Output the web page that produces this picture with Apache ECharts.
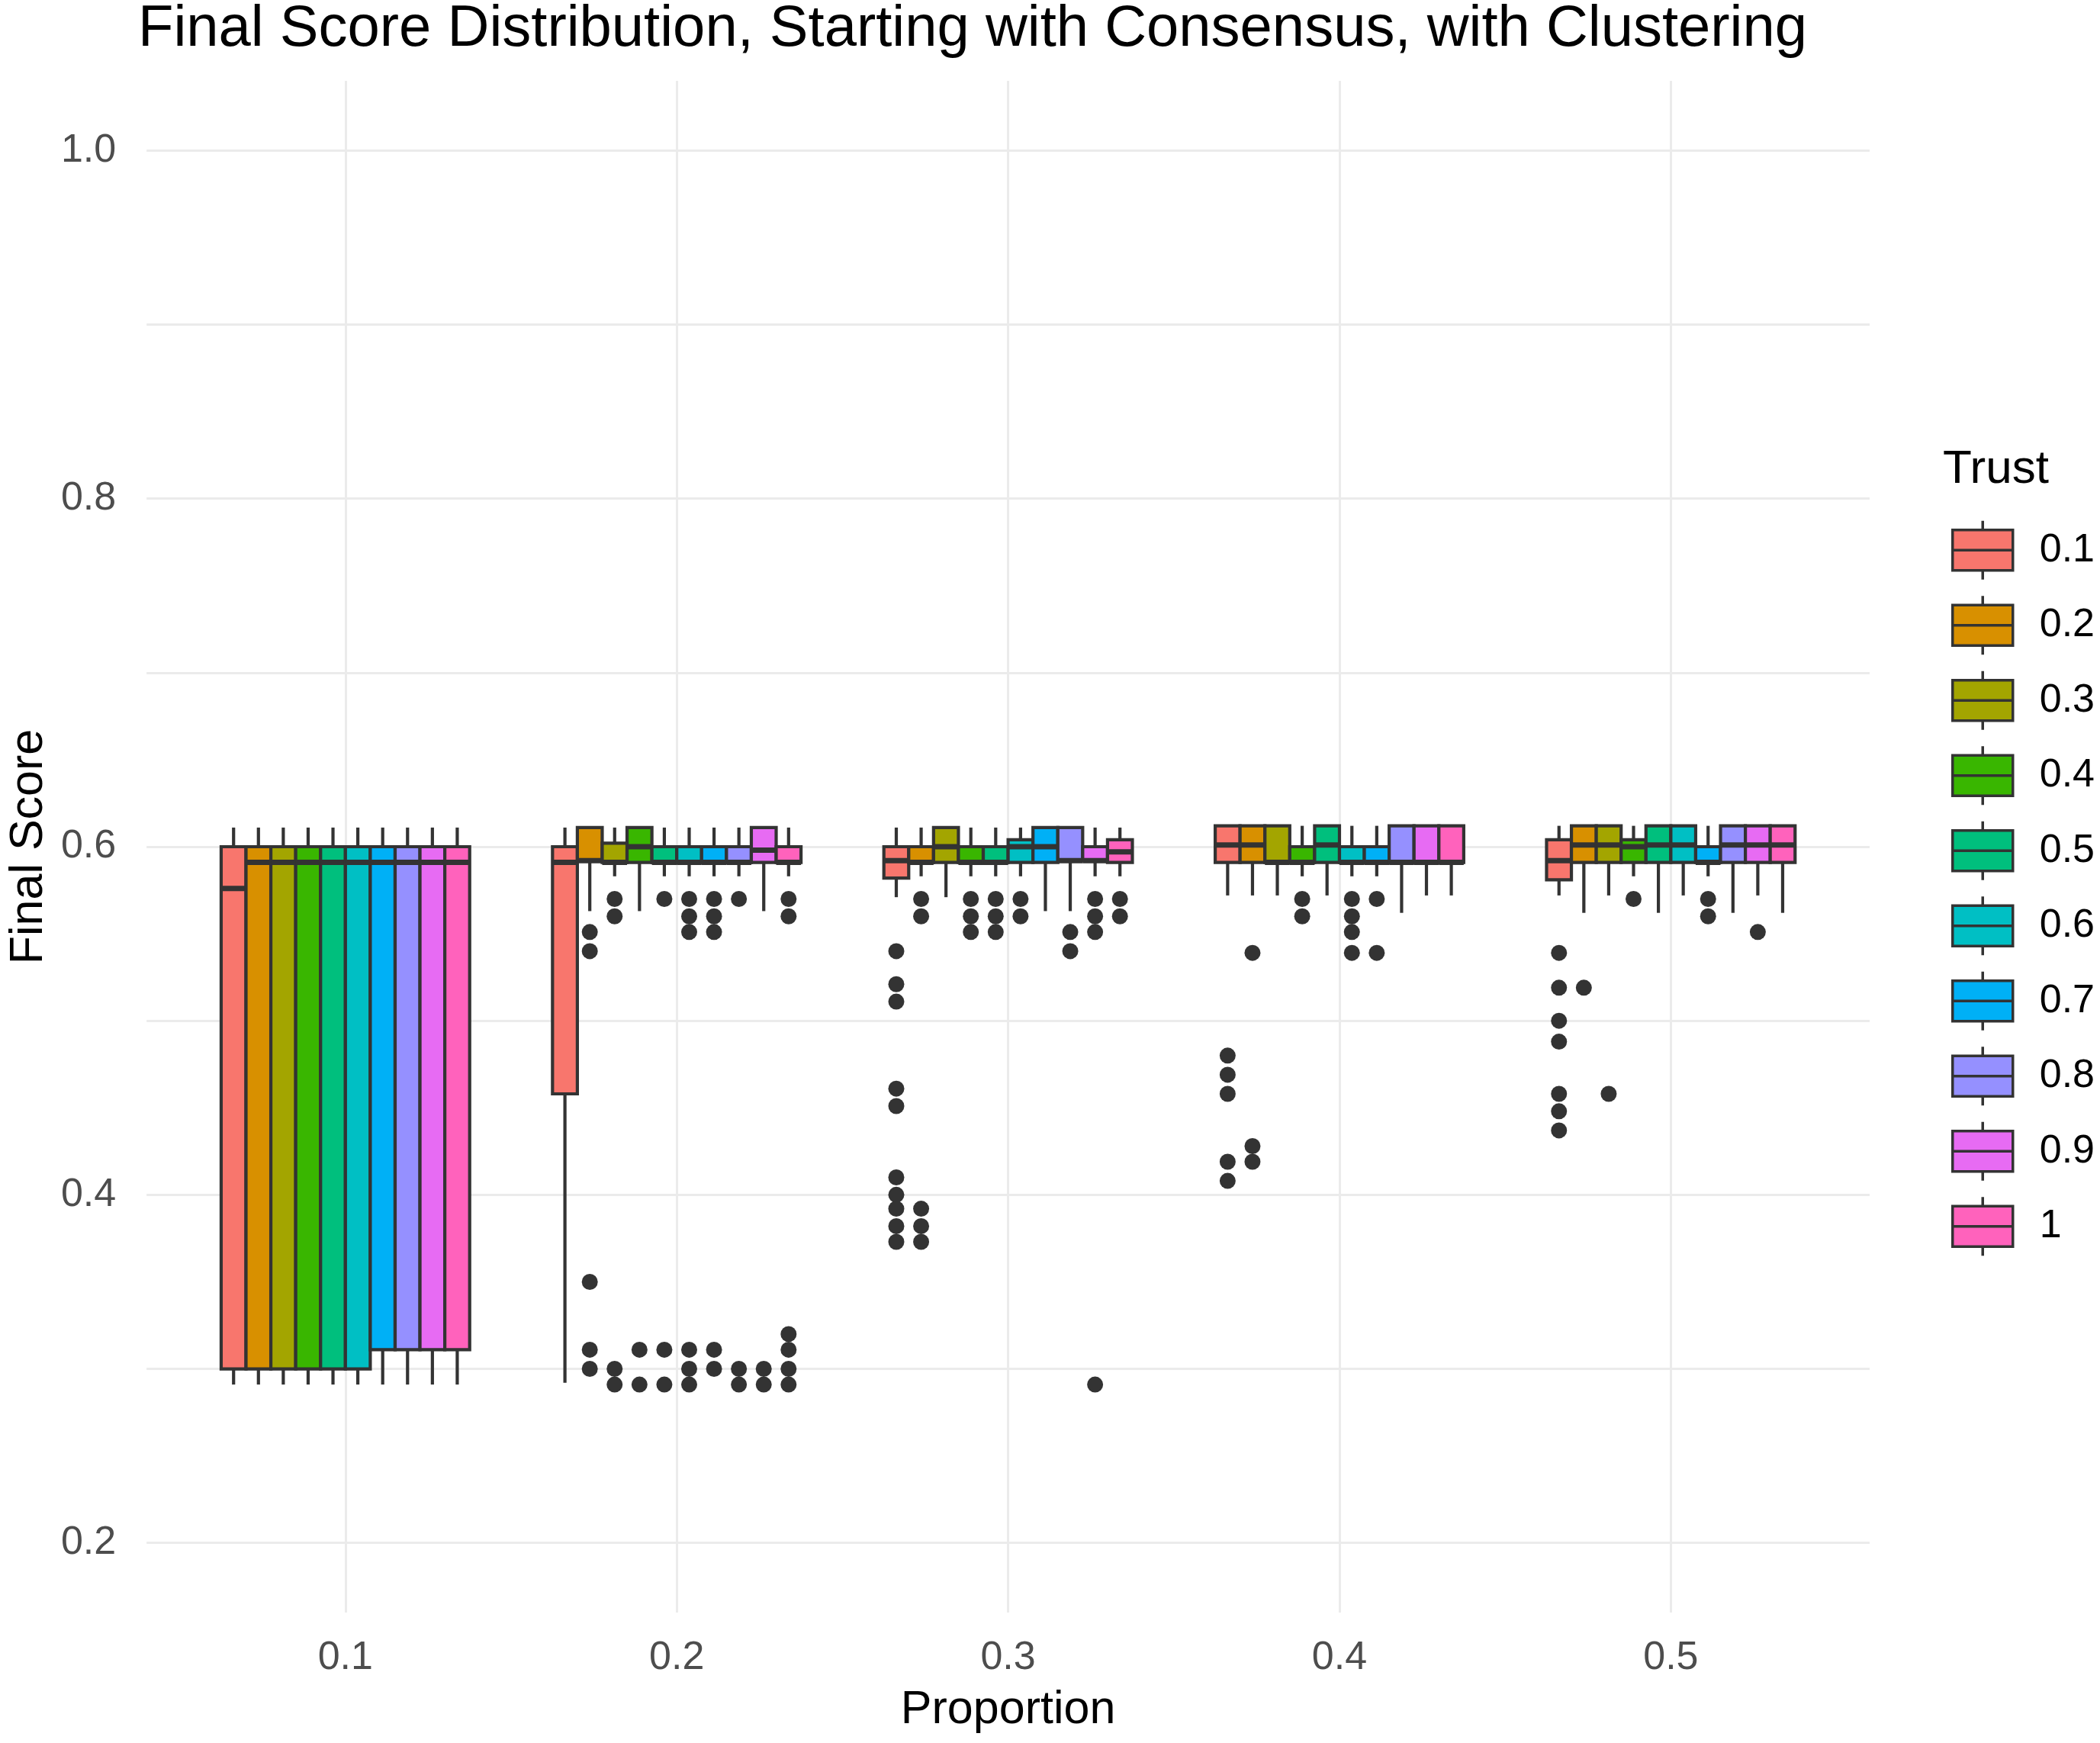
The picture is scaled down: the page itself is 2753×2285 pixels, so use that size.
<!DOCTYPE html>
<html>
<head>
<meta charset="utf-8">
<title>Final Score Distribution</title>
<script src="https://cdn.jsdelivr.net/npm/echarts@6/dist/echarts.min.js"></script>
<style>
html, body { margin: 0; padding: 0; background: #fff; }
#chart { width: 2753px; height: 2285px; }
</style>
</head>
<body>
<div id="chart"></div>
<script>
const proportions = [0.1, 0.2, 0.3, 0.4, 0.5];
const trustLevels = ['0.1', '0.2', '0.3', '0.4', '0.5', '0.6', '0.7', '0.8', '0.9', '1'];
const trustColors = ['#F8766D', '#D89000', '#A3A500', '#39B600', '#00BF7D',
                     '#00BFC4', '#00B0F6', '#9590FF', '#E76BF3', '#FF62BC'];
const yLabelTicks = [0.2, 0.4, 0.6, 0.8, 1.0];
const yGridTicks = [0.2, 0.3, 0.4, 0.5, 0.6, 0.7, 0.8, 0.9, 1.0];

// one row per proportion: [lower whisker, Q1, median, Q3, upper whisker]
const boxT01 = [[0.291, 0.300, 0.576, 0.600, 0.611], [0.292, 0.458, 0.591, 0.600, 0.611], [0.571, 0.582, 0.592, 0.600, 0.611], [0.572, 0.591, 0.601, 0.612, 0.612], [0.572, 0.581, 0.592, 0.604, 0.612]];
const boxT02 = [[0.291, 0.300, 0.591, 0.600, 0.611], [0.563, 0.592, 0.592, 0.611, 0.611], [0.583, 0.591, 0.591, 0.600, 0.611], [0.572, 0.591, 0.601, 0.612, 0.612], [0.562, 0.591, 0.601, 0.612, 0.612]];
const boxT03 = [[0.291, 0.300, 0.591, 0.600, 0.611], [0.583, 0.591, 0.591, 0.602, 0.611], [0.571, 0.591, 0.600, 0.611, 0.611], [0.572, 0.591, 0.591, 0.612, 0.612], [0.572, 0.591, 0.601, 0.612, 0.612]];
const boxT04 = [[0.291, 0.300, 0.591, 0.600, 0.611], [0.563, 0.591, 0.600, 0.611, 0.611], [0.583, 0.591, 0.591, 0.600, 0.611], [0.583, 0.591, 0.591, 0.600, 0.612], [0.583, 0.591, 0.600, 0.604, 0.612]];
const boxT05 = [[0.291, 0.300, 0.591, 0.600, 0.611], [0.583, 0.591, 0.591, 0.600, 0.611], [0.583, 0.591, 0.591, 0.600, 0.611], [0.572, 0.591, 0.601, 0.612, 0.612], [0.562, 0.591, 0.601, 0.612, 0.612]];
const boxT06 = [[0.291, 0.300, 0.591, 0.600, 0.611], [0.583, 0.591, 0.591, 0.600, 0.611], [0.583, 0.591, 0.600, 0.604, 0.611], [0.583, 0.591, 0.591, 0.600, 0.612], [0.572, 0.591, 0.601, 0.612, 0.612]];
const boxT07 = [[0.291, 0.311, 0.591, 0.600, 0.611], [0.583, 0.591, 0.591, 0.600, 0.611], [0.563, 0.591, 0.600, 0.611, 0.611], [0.583, 0.591, 0.591, 0.600, 0.612], [0.583, 0.591, 0.591, 0.600, 0.612]];
const boxT08 = [[0.291, 0.311, 0.591, 0.600, 0.611], [0.583, 0.591, 0.591, 0.600, 0.611], [0.563, 0.592, 0.592, 0.611, 0.611], [0.562, 0.591, 0.591, 0.612, 0.612], [0.562, 0.591, 0.601, 0.612, 0.612]];
const boxT09 = [[0.291, 0.311, 0.591, 0.600, 0.611], [0.563, 0.591, 0.598, 0.611, 0.611], [0.583, 0.592, 0.592, 0.600, 0.611], [0.572, 0.591, 0.591, 0.612, 0.612], [0.572, 0.591, 0.601, 0.612, 0.612]];
const boxT10 = [[0.291, 0.311, 0.591, 0.600, 0.611], [0.583, 0.591, 0.591, 0.600, 0.611], [0.583, 0.591, 0.597, 0.604, 0.611], [0.572, 0.591, 0.591, 0.612, 0.612], [0.562, 0.591, 0.601, 0.612, 0.612]];

// outliers, one list per proportion
const outT01 = [[], [], [0.54, 0.521, 0.511, 0.461, 0.451, 0.41, 0.40, 0.392, 0.382, 0.373], [0.48, 0.469, 0.458, 0.419, 0.408], [0.539, 0.519, 0.50, 0.488, 0.458, 0.448, 0.437]];
const outT02 = [[], [0.551, 0.54, 0.35, 0.311, 0.30], [0.57, 0.56, 0.392, 0.382, 0.373], [0.539, 0.428, 0.419], [0.519]];
const outT03 = [[], [0.57, 0.56, 0.30, 0.291], [], [], [0.458]];
const outT04 = [[], [0.311, 0.291], [0.57, 0.56, 0.551], [0.57, 0.56], [0.57]];
const outT05 = [[], [0.57, 0.311, 0.291], [0.57, 0.56, 0.551], [], []];
const outT06 = [[], [0.57, 0.56, 0.551, 0.311, 0.30, 0.291], [0.57, 0.56], [0.57, 0.56, 0.551, 0.539], []];
const outT07 = [[], [0.57, 0.56, 0.551, 0.311, 0.30], [], [0.57, 0.539], [0.57, 0.56]];
const outT08 = [[], [0.57, 0.30, 0.291], [0.551, 0.54], [], []];
const outT09 = [[], [0.30, 0.291], [0.57, 0.56, 0.551, 0.291], [], [0.551]];
const outT10 = [[], [0.57, 0.56, 0.32, 0.311, 0.30, 0.291], [0.57, 0.56], [], []];

const boxes = [boxT01, boxT02, boxT03, boxT04, boxT05, boxT06, boxT07, boxT08, boxT09, boxT10];
const outliers = [outT01, outT02, outT03, outT04, outT05, outT06, outT07, outT08, outT09, outT10];

const FONT = 'Liberation Sans, Arial, sans-serif';
const EDGE = '#333333';
const boxWidth = 0.075 / trustLevels.length;   // dodge width split over the trust levels
const dodgeOffset = k => (k - (trustLevels.length - 1) / 2) * boxWidth;

function renderBox(params, api) {
    const x = api.value(0) + dodgeOffset(params.seriesIndex);
    const lo = api.coord([x, api.value(1)]);
    const q1 = api.coord([x, api.value(2)]);
    const md = api.coord([x, api.value(3)]);
    const q3 = api.coord([x, api.value(4)]);
    const hi = api.coord([x, api.value(5)]);
    const half = api.size([boxWidth, 0])[0] / 2;
    return {
        type: 'group',
        children: [
            { type: 'line', shape: { x1: lo[0], y1: lo[1], x2: q1[0], y2: q1[1] }, style: { stroke: EDGE, lineWidth: 4.2 } },
            { type: 'line', shape: { x1: q3[0], y1: q3[1], x2: hi[0], y2: hi[1] }, style: { stroke: EDGE, lineWidth: 4.2 } },
            { type: 'rect', shape: { x: q3[0] - half, y: q3[1], width: half * 2, height: q1[1] - q3[1] },
              style: { fill: api.visual('color'), stroke: EDGE, lineWidth: 4.2 } },
            { type: 'line', shape: { x1: md[0] - half, y1: md[1], x2: md[0] + half, y2: md[1] }, style: { stroke: EDGE, lineWidth: 7 } }
        ]
    };
}

const boxSeries = trustLevels.map((name, k) => ({
    name: name,
    type: 'custom',
    renderItem: renderBox,
    itemStyle: { color: trustColors[k] },
    encode: { x: 0, y: [1, 2, 3, 4, 5] },
    data: boxes[k].map((row, g) => [proportions[g]].concat(row))
}));

const outlierData = [];
outliers.forEach((lists, k) => {
    lists.forEach((vals, g) => {
        vals.forEach(v => outlierData.push([proportions[g] + dodgeOffset(k), v]));
    });
});

const legendIcon = 'path://M0,12L79,12L79,65L0,65Z M0,38.5L79,38.5 M39.5,0L39.5,12 M39.5,65L39.5,77';

const chart = echarts.init(document.getElementById('chart'));
chart.setOption({
    animation: false,
    backgroundColor: '#ffffff',
    textStyle: { fontFamily: FONT },
    title: [{
        text: 'Final Score Distribution, Starting with Consensus, with Clustering',
        left: 176, top: -4,
        textStyle: { fontSize: 76, fontWeight: 'normal', color: '#000000', fontFamily: FONT }
    }, {
        text: 'Trust',
        left: 2542, top: 580,
        textStyle: { fontSize: 62, fontWeight: 'normal', color: '#000000', fontFamily: FONT }
    }],
    legend: {
        orient: 'vertical',
        left: 2553, top: 676,
        itemWidth: 79, itemHeight: 77, itemGap: 18,
        data: trustLevels.map(name => ({ name: name, icon: legendIcon })),
        itemStyle: { borderColor: EDGE, borderWidth: 3.5 },
        textStyle: { fontSize: 52, color: '#000000', fontFamily: FONT, padding: [0, 0, 0, 30] }
    },
    grid: { left: 181, top: 106, width: 2270, height: 2008 },
    xAxis: {
        type: 'value',
        min: 0.04, max: 0.56,
        name: 'Proportion',
        nameLocation: 'middle',
        nameGap: 98,
        nameTextStyle: { fontSize: 61, color: '#000000', fontFamily: FONT },
        axisLine: { show: false },
        axisTick: { show: false, customValues: proportions },
        axisLabel: { customValues: proportions, fontSize: 52, color: '#4d4d4d', margin: 34, formatter: v => v.toFixed(1) },
        splitLine: { show: true, lineStyle: { color: '#ebebeb', width: 3 } }
    },
    yAxis: {
        type: 'value',
        min: 0.16, max: 1.04,
        name: 'Final Score',
        nameLocation: 'middle',
        nameGap: 120,
        nameTextStyle: { fontSize: 61, color: '#000000', fontFamily: FONT },
        axisLine: { show: false },
        axisTick: { show: false, customValues: yGridTicks },
        axisLabel: { customValues: yLabelTicks, fontSize: 52, color: '#4d4d4d', margin: 40, formatter: v => v.toFixed(1) },
        splitLine: { show: true, lineStyle: { color: '#ebebeb', width: 3 } }
    },
    series: boxSeries.concat([{
        name: 'outliers',
        type: 'scatter',
        symbol: 'circle',
        symbolSize: 21,
        itemStyle: { color: EDGE, opacity: 1 },
        data: outlierData
    }])
});
</script>
</body>
</html>
